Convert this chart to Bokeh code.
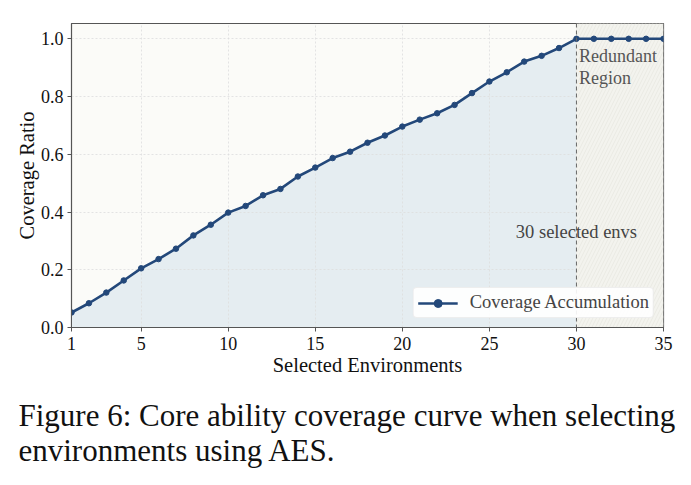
# coverage curve for AES environment selection
from bokeh.plotting import figure
from bokeh.models import (BoxAnnotation, Span, Label, Legend, LegendItem,
                          Title, FixedTicker, PrintfTickFormatter)
from bokeh.embed import file_html
from bokeh.resources import INLINE

# the data
envs = list(range(1, 36))
coverage = [0.052, 0.084, 0.121, 0.163, 0.205, 0.237, 0.273, 0.319, 0.356, 0.398,
            0.421, 0.458, 0.480, 0.523, 0.554, 0.587, 0.609, 0.640, 0.665, 0.696,
            0.720, 0.742, 0.771, 0.812, 0.852, 0.884, 0.921, 0.941, 0.968, 1.000,
            1.000, 1.000, 1.000, 1.000, 1.000]
cutoff = 30
x_ticks = [1, 5, 10, 15, 20, 25, 30, 35]
y_ticks = [0.0, 0.2, 0.4, 0.6, 0.8, 1.0]

FONT = "Liberation Serif"
BLUE = "#23487a"

p = figure(width=691, height=485, x_range=(1, 35), y_range=(0, 1.053),
           output_backend="svg", toolbar_location=None,
           min_border_left=71, min_border_right=28, min_border_top=23,
           min_border_bottom=10)

p.background_fill_color = "#fbfbf8"
p.border_fill_color = "white"
p.outline_line_color = "#555555"
p.outline_line_width = 1.2

# shaded redundant region after the cutoff
p.add_layout(BoxAnnotation(left=cutoff, right=35, fill_color="#f3f3ee", fill_alpha=1.0,
                           hatch_pattern="right_diagonal_line", hatch_color="#eaeae3",
                           hatch_scale=7, hatch_weight=1, line_color=None, level="underlay"))

# area under the curve up to the cutoff
p.varea(x=envs[:cutoff], y1=0, y2=coverage[:cutoff], fill_color="#e5edf1", level="underlay")

p.add_layout(Span(location=cutoff, dimension="height", line_color="#666666",
                  line_width=1, line_dash="4 3"))

ln = p.line(envs, coverage, line_color=BLUE, line_width=2.6)
pts = p.scatter(envs, coverage, size=5.5, fill_color=BLUE, line_color=BLUE)

p.add_layout(Label(x=cutoff, y=0.33, text="30 selected envs", text_align="center",
                   text_baseline="middle", text_font=FONT, text_font_size="18.5px",
                   text_color="#444444"))
p.add_layout(Label(x=cutoff + 0.15, y=0.975, text="Redundant\nRegion", text_align="left",
                   text_baseline="top", text_font=FONT, text_font_size="18px",
                   text_color="#555555", text_line_height=1.1))

legend = Legend(items=[LegendItem(label="Coverage Accumulation", renderers=[ln, pts])],
                location="bottom_right", label_text_font=FONT, label_text_font_size="18.5px",
                background_fill_color="white", background_fill_alpha=0.9,
                border_line_color="#dddddd", border_line_width=1, border_radius=4,
                glyph_width=40, margin=9, padding=4, spacing=0, label_standoff=12)
p.add_layout(legend)

# axes
p.xaxis.ticker = FixedTicker(ticks=x_ticks)
p.yaxis.ticker = FixedTicker(ticks=y_ticks)
p.yaxis.formatter = PrintfTickFormatter(format="%.1f")
p.xaxis.axis_label = "Selected Environments"
p.yaxis.axis_label = "Coverage Ratio"
for ax in (p.xaxis, p.yaxis):
    ax.axis_label_text_font = FONT
    ax.axis_label_text_font_size = "20.5px"
    ax.axis_label_text_font_style = "normal"
    ax.axis_label_text_color = "#111111"
    ax.major_label_text_font = FONT
    ax.major_label_text_font_size = "18px"
    ax.major_label_text_color = "#111111"
    ax.axis_line_color = "#555555"
    ax.major_tick_line_color = "#555555"
    ax.major_tick_in = 0
    ax.major_tick_out = 4
    ax.minor_tick_line_color = None
p.xaxis.axis_label_standoff = 1
p.yaxis.axis_label_standoff = 0
p.yaxis.major_label_standoff = 4

p.grid.grid_line_color = "#dddddd"
p.grid.grid_line_dash = "2 2"
p.grid.grid_line_width = 0.8

# caption below the chart
caption = ["Figure 6: Core ability coverage curve when selecting",
           "environments using AES."]
p.add_layout(Title(text="\n".join(caption), align="left", text_font=FONT,
                   text_font_size="31px", text_font_style="normal", text_color="#111111",
                   text_line_height=1.02, offset=-53, standoff=34), "below")

open("out.html", "w").write(file_html(p, INLINE))
